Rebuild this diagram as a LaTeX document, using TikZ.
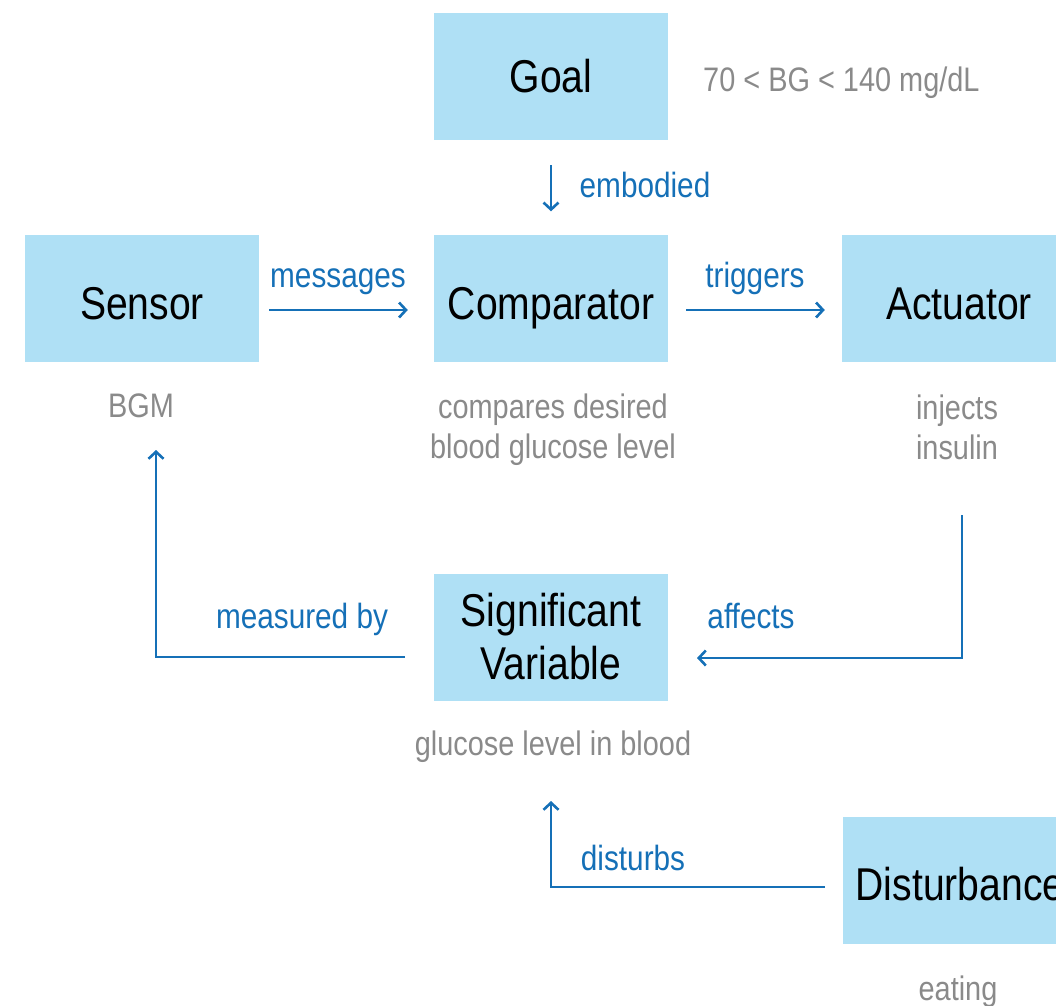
\documentclass[tikz,border=0pt]{standalone}
\usepackage{fontspec}
\setmainfont[FakeStretch=0.85]{Liberation Sans}
\usetikzlibrary{arrows.meta}
\definecolor{boxfill}{RGB}{175,224,245}
\definecolor{linkblue}{RGB}{21,112,183}
\definecolor{notegray}{RGB}{138,138,138}
\tikzset{
  block/.style={fill=boxfill, minimum width=234pt, minimum height=127pt,
    inner sep=0pt, align=center, text=black, font=\fontsize{46}{53}\selectfont},
  lowtext/.style={text height=#1, text depth=0pt},
  note/.style={text=notegray, align=center, inner sep=0pt, font=\fontsize{34}{40}\selectfont},
  tag/.style={text=linkblue, inner sep=0pt, anchor=base, font=\fontsize{35}{40}\selectfont},
  flow/.style={draw=linkblue, line width=2.8pt,
    -{Straight Barb[length=7pt, width=15pt, line width=2.6pt]}},
}
\begin{document}
\begin{tikzpicture}[x=1pt, y=-1pt]
  \useasboundingbox (0,0) rectangle (1056,1005);
  \clip (0,0) rectangle (1056,1005);

  % blocks of the loop
  \node[block] (goal) at (551,76.5) {Goal};
  \node[block, lowtext=42pt] (sensor) at (142,298) {Sensor};
  \node[block, lowtext=42pt] (comp) at (551,298) {Comparator};
  \node[block, lowtext=42pt] (act) at (959,298) {Actuator};
  \node[block] (sv) at (551,637) {Significant\\Variable};
  \node[block, lowtext=40pt] (dist) at (960,880) {Disturbance};

  % descriptions under the blocks
  \node[note, anchor=base west] (goalnote) at (703,91) {70 < BG < 140 mg/dL};
  \node[note, anchor=base] (sensornote) at (141,417) {BGM};
  \node[note] (compnote) at (553,430) {compares desired\\blood glucose level};
  \node[note] (actnote) at (957,427) {injects\\insulin};
  \node[note, anchor=base] (svnote) at (553,755) {glucose level in blood};
  \node[note, anchor=base] (distnote) at (958,1000) {eating};

  % direct links
  \draw[flow, shorten <=25pt, shorten >=23pt] (goal) -- (comp);
  \draw[flow, shorten <=10pt, shorten >=26pt]
    ([yshift=-12pt]sensor.east) -- ([yshift=-12pt]comp.west);
  \draw[flow, shorten <=18pt, shorten >=17pt]
    ([yshift=-12pt]comp.east) -- ([yshift=-12pt]act.west);

  % feedback paths
  \coordinate (actout) at (962,515);
  \coordinate (svin) at (697,658);
  \draw[flow] (actout) |- (svin);

  \coordinate (svout) at (405,657);
  \coordinate (sensorin) at (156,450);
  \draw[flow] (svout) -| (sensorin);

  \coordinate (distout) at (825,887);
  \coordinate (svbelow) at (551,801);
  \draw[flow] (distout) -| (svbelow);

  % link labels
  \node[tag] (lembodied) at (645,197) {embodied};
  \node[tag] (lmessages) at (338,287) {messages};
  \node[tag] (ltriggers) at (755,287) {triggers};
  \node[tag] (lmeasured) at (302,628) {measured by};
  \node[tag] (laffects) at (751,628) {affects};
  \node[tag] (ldisturbs) at (633,870) {disturbs};
\end{tikzpicture}
\end{document}
